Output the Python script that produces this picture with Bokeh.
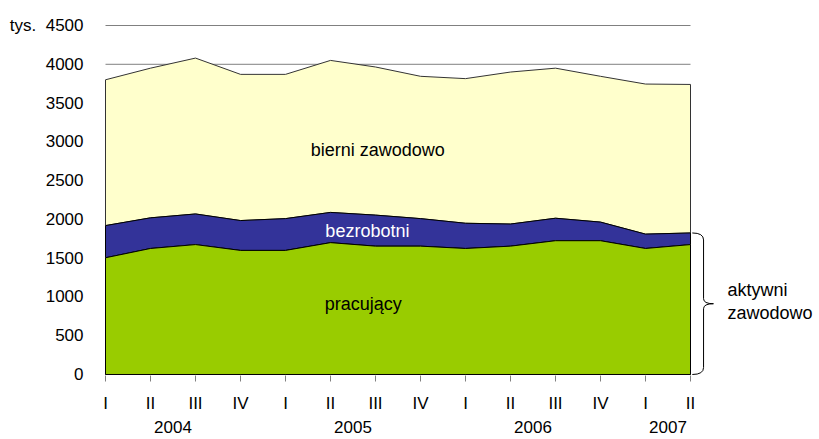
import numpy as np
from bokeh.plotting import figure
from bokeh.models import FixedTicker, Range1d, LinearAxis
from bokeh.embed import file_html
from bokeh.resources import INLINE
from bokeh.core.properties import value

# ---- data (thousands of persons) ----
quarters = ["I", "II", "III", "IV", "I", "II", "III", "IV", "I", "II", "III", "IV", "I", "II"]
years = ["2004", "2005", "2006", "2007"]
year_centers = [1.5, 5.5, 9.5, 12.5]
pracujacy = [1505, 1625, 1675, 1600, 1600, 1700, 1655, 1655, 1625, 1655, 1725, 1725, 1625, 1675]
bezrobotni = [415, 395, 395, 385, 410, 390, 400, 355, 325, 285, 290, 240, 185, 150]
bierni = [1880, 1930, 2010, 1885, 1860, 1960, 1910, 1835, 1865, 1960, 1935, 1880, 1935, 1915]
y_ticks = [0, 500, 1000, 1500, 2000, 2500, 3000, 3500, 4000, 4500]
y_unit = "tys."

FONT = "Liberation Sans"
TICK_SIZE = "17px"
LABEL_SIZE = "18px"

x = np.arange(len(quarters), dtype=float)
lvl0 = np.zeros(len(x))
lvl1 = np.array(pracujacy, dtype=float)
lvl2 = lvl1 + np.array(bezrobotni)
lvl3 = lvl2 + np.array(bierni)

W, H = 819, 439
LEFT, TOP, BOTTOM = 104, 24, 64
PX = 45.0  # px per category step
p = figure(width=W, height=H, output_backend="svg", toolbar_location=None,
           x_range=Range1d(-1 / PX, (W - LEFT - 1) / PX), y_range=Range1d(-13, 4513),
           min_border_left=LEFT, min_border_right=0, min_border_top=TOP, min_border_bottom=BOTTOM)
p.outline_line_color = None
p.background_fill_color = "white"
p.border_fill_color = "white"
p.xgrid.visible = False
p.ygrid.visible = False

# grid lines only across the data span
p.segment(x0=x[0], x1=x[-1], y0=y_ticks[1:], y1=y_ticks[1:], line_color="#808080", line_width=1)
p.segment(x0=x[0], x1=x[-1], y0=0, y1=0, line_color="#000000", line_width=1)

def band(bottom, top, fill, line):
    xs = np.concatenate([x, x[::-1]])
    ys = np.concatenate([top, bottom[::-1]])
    p.patch(xs, ys, fill_color=fill, line_color=line, line_width=1)

band(lvl2, lvl3, "#FFFFCC", "#333333")
band(lvl1, lvl2, "#333399", "#000000")
band(lvl0, lvl1, "#99CC00", "#000000")

# brace around active population at the last quarter
top = lvl2[-1]
mid = top / 2.0
bx0, bxm, bxt = x[-1] + 0.04, x[-1] + 0.29, x[-1] + 0.51
r, rt = 90.0, 65.0
p.quadratic(x0=[bx0, bxm, bxt, bxm], y0=[top, mid + rt, mid, 0 + r],
            x1=[bxm, bxt, bxm, bx0], y1=[top - r, mid, mid - rt, 0],
            cx=[bxm, bxm, bxm, bxm], cy=[top, mid, mid, 0],
            line_color="black", line_width=1)
p.segment(x0=[bxm, bxm], y0=[top - r, mid - rt], x1=[bxm, bxm], y1=[mid + rt, r],
          line_color="black", line_width=1)

# in-chart labels
def txt(xx, yy, s, color="black", align="center"):
    p.text(x=[xx], y=[yy], text=[s], text_font=value(FONT), text_font_size=LABEL_SIZE,
           text_color=color, text_align=align, text_baseline="alphabetic")

txt(6.05, 2900, "bierni zawodowo")
txt(5.82, 1855, "bezrobotni", color="white")
txt(5.73, 915, "pracujący")
txt(13.82, 1085, "aktywni", align="left")
txt(13.82, 795, "zawodowo", align="left")

# axes
xa = p.xaxis[0]
xa.ticker = FixedTicker(ticks=list(x))
xa.major_label_overrides = {float(i): q for i, q in enumerate(quarters)}
xa.axis_line_color = None
xa.major_tick_in = 0
xa.major_tick_out = 6
xa.major_tick_line_color = "#808080"
xa.minor_tick_line_color = None
xa.major_label_standoff = 12
xa.major_label_text_font = FONT
xa.major_label_text_font_size = TICK_SIZE
xa.major_label_text_color = "black"

year_axis = LinearAxis(ticker=FixedTicker(ticks=year_centers),
                       major_label_overrides={float(c): yv for c, yv in zip(year_centers, years)},
                       axis_line_color=None, major_tick_line_color=None, minor_tick_line_color=None,
                       major_tick_in=0, major_tick_out=0, major_label_standoff=5,
                       major_label_text_font=FONT, major_label_text_font_size=TICK_SIZE,
                       major_label_text_color="black")
p.add_layout(year_axis, "below")

ya = p.yaxis[0]
ya.ticker = FixedTicker(ticks=y_ticks)
ya.major_label_overrides = {float(y_ticks[-1]): y_unit + "\u00a0\u00a0" + str(y_ticks[-1])}
ya.axis_line_color = None
ya.major_tick_line_color = None
ya.minor_tick_line_color = None
ya.major_label_standoff = 15
ya.major_label_text_font = FONT
ya.major_label_text_font_size = TICK_SIZE
ya.major_label_text_color = "black"

open("out.html", "w").write(file_html(p, INLINE))
